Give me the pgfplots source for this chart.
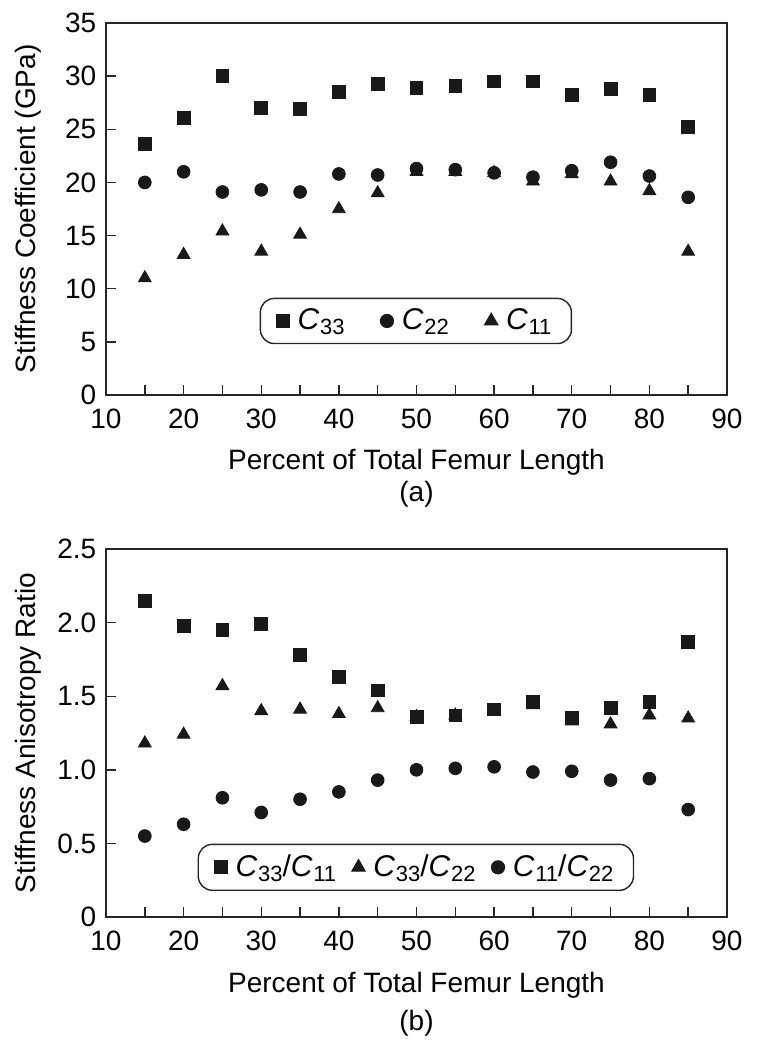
\documentclass[border=0pt]{standalone}
\usepackage{fontspec}
\setmainfont{Liberation Sans}
\usepackage{pgfplots}
\pgfplotsset{compat=1.18}
\newcommand{\bigf}{\fontsize{14}{17}\selectfont}
\newcommand{\sub}[1]{\raisebox{-0.35ex}{\fontsize{11}{12}\selectfont #1}}
\newcommand{\C}[1]{\textit{C}\kern0.3pt\sub{#1}}
\begin{document}
\bigf
\begin{tikzpicture}
\pgfplotsset{
 myax/.style={
  scale only axis, width=310.5pt,
  xmin=10, xmax=90, xtick={10,20,...,90}, minor xtick={15,25,...,85},
  tick align=inside, xtick pos=bottom, ytick pos=left,
  major tick length=5pt, minor tick length=5pt,
  axis line style={line width=0.9pt, black!85},
  every tick/.style={line width=0.7pt, black!85},
  /pgf/number format/assume math mode=true,
  tick label style={font=\bigf},
  xticklabel style={yshift=-2pt},
  label style={font=\bigf},
  xlabel={Percent of Total Femur Length},
  xlabel style={at={(axis description cs:0.5,-0.18)}, anchor=center},
  ylabel style={at={(axis description cs:-0.1256,0.5)}, anchor=center, rotate=0},
  legend style={rounded corners=7pt, draw=black!85, line width=0.7pt, font=\fontsize{15}{17}\selectfont,
    legend columns=3, inner xsep=8pt, inner ysep=3pt,
    /tikz/every even column/.append style={column sep=16pt}},
  legend image code/.code={\draw[#1] plot coordinates {(0.12cm,0cm)}; \path (0.3cm,0cm);},
  every axis plot/.append style={only marks, draw=black!90, fill=black!90},
 }
}
\path[use as bounding box] (-53pt,-327.5pt) rectangle (326.5pt,197.5pt);
\begin{axis}[myax, height=186pt, ymin=0, ymax=35, ytick={0,5,...,35},
  ylabel={Stiffness Coefficient (GPa)},
  legend style={at={(axis description cs:0.499,0.199)}, anchor=center}]
\addplot[mark=square*, mark size=3.2pt] coordinates {
(15,23.6)(20,26.1)(25,30.0)(30,27.0)(35,26.9)(40,28.5)(45,29.3)(50,28.9)(55,29.1)(60,29.5)(65,29.5)(70,28.2)(75,28.8)(80,28.2)(85,25.2)};
\addplot[mark=*, mark size=3.2pt] coordinates {
(15,20.0)(20,21.0)(25,19.1)(30,19.3)(35,19.1)(40,20.8)(45,20.7)(50,21.3)(55,21.2)(60,20.9)(65,20.5)(70,21.1)(75,21.9)(80,20.6)(85,18.6)};
\addplot[mark=triangle*, mark size=3.7pt] coordinates {
(15,11.0)(20,13.2)(25,15.4)(30,13.5)(35,15.1)(40,17.5)(45,19.0)(50,21.0)(55,21.0)(60,20.9)(65,20.1)(70,20.8)(75,20.1)(80,19.2)(85,13.5)};
\legend{\C{33}, \C{22}, \C{11}}
\end{axis}
\node[font=\bigf] at (155.25pt,-49.5pt) {(a)};
\begin{axis}[myax, at={(0pt,-261pt)}, anchor=south west, height=184pt,
  ymin=0, ymax=2.5, ytick={0,0.5,1.0,1.5,2.0,2.5}, yticklabels={0,0.5,1.0,1.5,2.0,2.5},
  ylabel={Stiffness Anisotropy Ratio},
  xlabel style={at={(axis description cs:0.5,-0.185)}},
  legend style={at={(axis description cs:0.499,0.135)}, anchor=center,
    /tikz/every even column/.append style={column sep=6pt}}]
\addplot[mark=square*, mark size=3.2pt] coordinates {
(15,2.15)(20,1.98)(25,1.95)(30,1.99)(35,1.78)(40,1.63)(45,1.54)(50,1.36)(55,1.37)(60,1.41)(65,1.46)(70,1.35)(75,1.42)(80,1.46)(85,1.87)};
\addplot[mark=triangle*, mark size=3.7pt] coordinates {
(15,1.18)(20,1.24)(25,1.57)(30,1.40)(35,1.41)(40,1.38)(45,1.42)(50,1.36)(55,1.37)(60,1.40)(65,1.44)(70,1.33)(75,1.31)(80,1.37)(85,1.35)};
\addplot[mark=*, mark size=3.2pt] coordinates {
(15,0.55)(20,0.63)(25,0.81)(30,0.71)(35,0.80)(40,0.85)(45,0.93)(50,1.00)(55,1.01)(60,1.02)(65,0.985)(70,0.99)(75,0.93)(80,0.94)(85,0.73)};
\legend{\C{33}/\C{11}, \C{33}/\C{22}, \C{11}/\C{22}}
\end{axis}
\node[font=\bigf] at (155.25pt,-314pt) {(b)};
\end{tikzpicture}
\end{document}
